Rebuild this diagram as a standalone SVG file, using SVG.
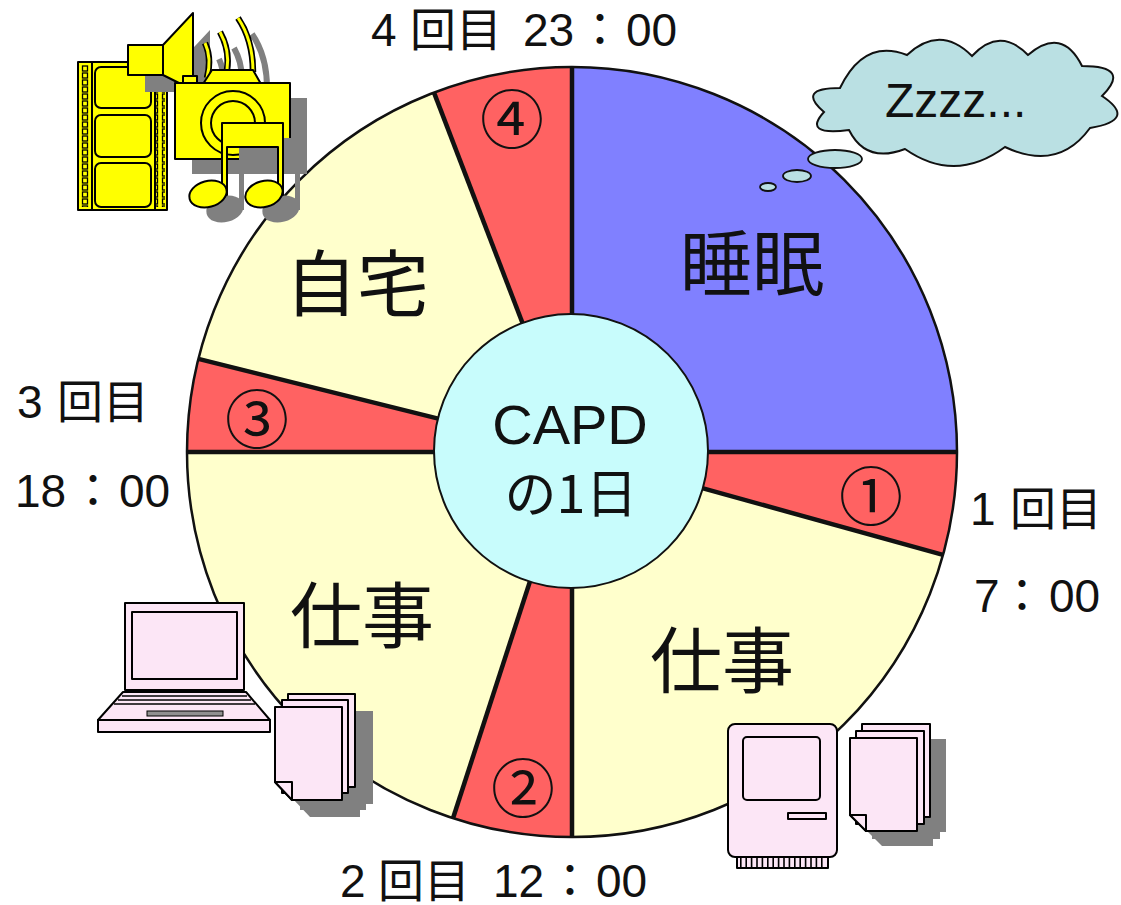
<svg xmlns="http://www.w3.org/2000/svg" xmlns:xlink="http://www.w3.org/1999/xlink" width="1121" height="905" viewBox="0 0 1121 905">
  <style>
    .lbl { font-family: "Liberation Sans", "Noto Sans CJK JP", "Noto Sans CJK SC", sans-serif; font-size: 46px; fill: #111; }
    .big { font-family: "Noto Sans CJK JP", "Noto Sans CJK SC", sans-serif; font-size: 72px; fill: #111; text-anchor: middle; dominant-baseline: central; }
    .num { font-family: "Noto Sans CJK JP", "Noto Sans CJK SC", sans-serif; font-size: 64px; fill: #111; text-anchor: middle; dominant-baseline: central; }
    .red { fill: #FF6262; }
    .cream { fill: #FFFFCC; }
    .edge { stroke: #111; stroke-width: 4.5; stroke-linecap: butt; }
    .ol { stroke: #000; stroke-width: 2; stroke-linejoin: round; }
    .yel { fill: #FFFF00; }
    .pink { fill: #FCE6F6; }
    .shd { fill: #808080; stroke: none; }
    .puff { fill: #BAE0E3; stroke: #111; stroke-width: 1.8; }
  </style>
  <defs>
    <pattern id="sprocket" patternUnits="userSpaceOnUse" x="80" y="65" width="10" height="7">
      <rect x="2.5" y="1" width="5" height="5" fill="#FFFF00" stroke="#000" stroke-width="1.3"/>
    </pattern>
    <!-- silhouettes shared by the icons and their drop shadows -->
    <g id="spkShape">
      <rect x="128" y="45" width="35" height="30"/>
      <polygon points="163,45 193,13 193,90 163,75"/>
    </g>
    <g id="camShape">
      <polygon points="203,84 212,70 253,70 261,84"/>
      <rect x="183" y="76" width="14" height="8"/>
      <rect x="175" y="83" width="115" height="76"/>
      <circle cx="233" cy="123" r="32"/>
      <circle cx="233" cy="123" r="22"/>
    </g>
    <g id="noteShape">
      <path d="M222,123 H283 V195 H278 V147 H227 V195 H222 Z"/>
      <ellipse cx="208" cy="194" rx="19" ry="13" transform="rotate(-15 208 194)"/>
      <ellipse cx="264" cy="194" rx="19" ry="13" transform="rotate(-15 264 194)"/>
    </g>
    <path id="waves" d="M205,43 Q212,58 207,78 M220,32 Q230,50 227,70 M238,18 Q253,40 253,72" fill="none"/>
    <g id="docsL">
      <rect x="288" y="694" width="67" height="93"/>
      <rect x="282" y="700" width="66" height="93"/>
      <path d="M275,707 H342 V800 H292 L275,782 Z"/>
    </g>
    <g id="docsR">
      <rect x="862" y="724" width="68" height="93"/>
      <rect x="856" y="731" width="68" height="93"/>
      <path d="M850,738 H917 V831 H866 L850,815 Z"/>
    </g>
  </defs>

  <rect width="1121" height="905" fill="#FFFFFF"/>

  <!-- day wheel -->
  <g id="wheel">
    <path id="slice-sleep" d="M572,452 L572,67 A385,385 0 0 1 957,452 Z" fill="#8080FF"/>
    <path id="slice-1" class="red" d="M572,452 L957,452 A385,385 0 0 1 943.0,554.9 Z"/>
    <path id="slice-work-r" class="cream" d="M572,452 L943.0,554.9 A385,385 0 0 1 572,837 Z"/>
    <path id="slice-2" class="red" d="M572,452 L572,837 A385,385 0 0 1 453.0,818.2 Z"/>
    <path id="slice-work-l" class="cream" d="M572,452 L453.0,818.2 A385,385 0 0 1 187,452 Z"/>
    <path id="slice-3" class="red" d="M572,452 L187,452 A385,385 0 0 1 198.4,358.9 Z"/>
    <path id="slice-home" class="cream" d="M572,452 L198.4,358.9 A385,385 0 0 1 434.0,92.6 Z"/>
    <path id="slice-4" class="red" d="M572,452 L434.0,92.6 A385,385 0 0 1 572,67 Z"/>
  </g>

  <!-- slice dividers -->
  <g id="connectors">
    <line class="edge" x1="572" y1="452" x2="572" y2="67"/>
    <line class="edge" x1="572" y1="452" x2="957" y2="452"/>
    <line class="edge" x1="572" y1="452" x2="943.0" y2="554.9"/>
    <line class="edge" x1="572" y1="452" x2="572" y2="837"/>
    <line class="edge" x1="572" y1="452" x2="453.0" y2="818.2"/>
    <line class="edge" x1="572" y1="452" x2="187" y2="452"/>
    <line class="edge" x1="572" y1="452" x2="198.4" y2="358.9"/>
    <line class="edge" x1="572" y1="452" x2="434.0" y2="92.6"/>
    <circle cx="572" cy="452" r="385" fill="none" stroke="#111" stroke-width="2.5"/>
  </g>

  <g id="hub">
    <circle cx="571" cy="451" r="137" fill="#C8FCFC" stroke="#111" stroke-width="2"/>
    <text x="570" y="444" font-family="'Liberation Sans', Arial, sans-serif" font-size="56" fill="#111" text-anchor="middle">CAPD</text>
    <text x="571" y="490" class="big" style="font-size:52px">の1日</text>
  </g>

  <!-- slice labels -->
  <g id="label-sleep"><text class="big" x="752" y="258">睡眠</text></g>
  <g id="label-home"><text class="big" x="357" y="278">自宅</text></g>
  <g id="label-work-l"><text class="big" x="362" y="610">仕事</text></g>
  <g id="label-work-r"><text class="big" x="722" y="655">仕事</text></g>

  <g id="mark-1"><text class="num" x="871" y="492">①</text></g>
  <g id="mark-2"><text class="num" x="523" y="784">②</text></g>
  <g id="mark-3"><text class="num" x="257" y="415">③</text></g>
  <g id="mark-4"><text class="num" x="512" y="115">④</text></g>

  <!-- exchange times -->
  <g id="time-4"><text class="lbl" y="46"><tspan x="371">4</tspan><tspan x="410">回目</tspan><tspan x="523">23</tspan><tspan x="577">：</tspan><tspan x="626">00</tspan></text></g>
  <g id="time-3">
    <text class="lbl" y="418"><tspan x="17">3</tspan><tspan x="57">回目</tspan></text>
    <text class="lbl" y="507"><tspan x="15">18</tspan><tspan x="70">：</tspan><tspan x="119">00</tspan></text>
  </g>
  <g id="time-1">
    <text class="lbl" y="525"><tspan x="970">1</tspan><tspan x="1010">回目</tspan></text>
    <text class="lbl" y="612"><tspan x="974">7</tspan><tspan x="999">：</tspan><tspan x="1049">00</tspan></text>
  </g>
  <g id="time-2"><text class="lbl" y="897"><tspan x="340">2</tspan><tspan x="378">回目</tspan><tspan x="493">12</tspan><tspan x="547">：</tspan><tspan x="596">00</tspan></text></g>

  <!-- thought cloud -->
  <g id="cloud">
    <ellipse class="puff" cx="768" cy="187" rx="8" ry="4"/>
    <ellipse class="puff" cx="797" cy="176" rx="14" ry="6"/>
    <ellipse class="puff" cx="835" cy="159" rx="27" ry="9"/>
    <path d="M840,88 Q864,38 907,55 Q940,24 972,56 Q1000,26 1028,55 Q1062,26 1082,66 Q1132,66 1102,96 Q1138,120 1090,128 Q1058,172 1005,147 Q955,184 905,149 Q866,164 849,130 Q802,136 824,112 Q796,88 840,88 Z" fill="#BAE0E3" stroke="#111" stroke-width="2"/>
    <text x="885" y="117" font-family="'Liberation Sans', Arial, sans-serif" font-size="48" fill="#111">Zzzz...</text>
  </g>

  <!-- film, speaker, camera and notes -->
  <g id="media-icon">
    <rect x="78" y="62" width="89" height="148" class="yel ol" stroke-width="2.5"/>
    <rect x="80" y="65" width="10" height="142" fill="url(#sprocket)"/>
    <rect x="155" y="65" width="10" height="142" fill="url(#sprocket)"/>
    <line x1="92" y1="62" x2="92" y2="210" stroke="#000" stroke-width="2"/>
    <line x1="155" y1="62" x2="155" y2="210" stroke="#000" stroke-width="2"/>
    <rect x="95" y="67" width="56" height="41" rx="6" class="yel ol"/>
    <rect x="95" y="115" width="56" height="42" rx="6" class="yel ol"/>
    <rect x="95" y="163" width="56" height="44" rx="6" class="yel ol"/>

    <use xlink:href="#spkShape" class="shd" transform="translate(17 17)"/>
    <use xlink:href="#spkShape" class="yel ol"/>
    <use xlink:href="#waves" stroke="#808080" stroke-width="6" transform="translate(14 16)"/>
    <use xlink:href="#waves" stroke="#000" stroke-width="6.5"/>
    <use xlink:href="#waves" stroke="#FFFF00" stroke-width="3"/>
    <use xlink:href="#camShape" class="shd" transform="translate(17 15)"/>
    <use xlink:href="#camShape" class="yel ol"/>
    <use xlink:href="#noteShape" class="shd" transform="translate(17 15)"/>
    <use xlink:href="#noteShape" class="yel ol"/>
  </g>

  <!-- laptop and papers -->
  <g id="laptop-icon">
    <rect x="125" y="603" width="119" height="87" class="pink ol"/>
    <rect x="132" y="612" width="105" height="67" class="pink ol"/>
    <polygon points="123,692 246,692 270,720 98,720" class="pink ol"/>
    <g stroke="#000" stroke-width="1.6">
      <line x1="122" y1="696" x2="247" y2="696"/>
      <line x1="118" y1="700" x2="251" y2="700"/>
      <line x1="114" y1="704" x2="255" y2="704"/>
    </g>
    <rect x="147" y="711" width="76" height="5" fill="#909090" stroke="#000" stroke-width="1"/>
    <rect x="98" y="720" width="172" height="12" class="pink ol"/>
  </g>
  <g id="papers-left">
    <use xlink:href="#docsL" class="shd" transform="translate(18 17)"/>
    <use xlink:href="#docsL" class="pink ol"/>
    <polygon points="275,782 292,782 292,800" class="pink ol"/>
  </g>

  <!-- desktop computer and papers -->
  <g id="desktop-icon">
    <rect x="737" y="857" width="91" height="11" class="pink ol"/>
    <line x1="740" y1="862.5" x2="826" y2="862.5" stroke="#000" stroke-width="11" stroke-dasharray="1.6 3.8"/>
    <rect x="728" y="724" width="109" height="133" rx="7" class="pink ol"/>
    <rect x="743" y="737" width="77" height="63" rx="4" class="pink ol"/>
    <rect x="788" y="813" width="38" height="6" class="pink ol"/>
  </g>
  <g id="papers-right">
    <use xlink:href="#docsR" class="shd" transform="translate(16 15)"/>
    <use xlink:href="#docsR" class="pink ol"/>
    <polygon points="850,815 866,815 866,831" class="pink ol"/>
  </g>
</svg>
